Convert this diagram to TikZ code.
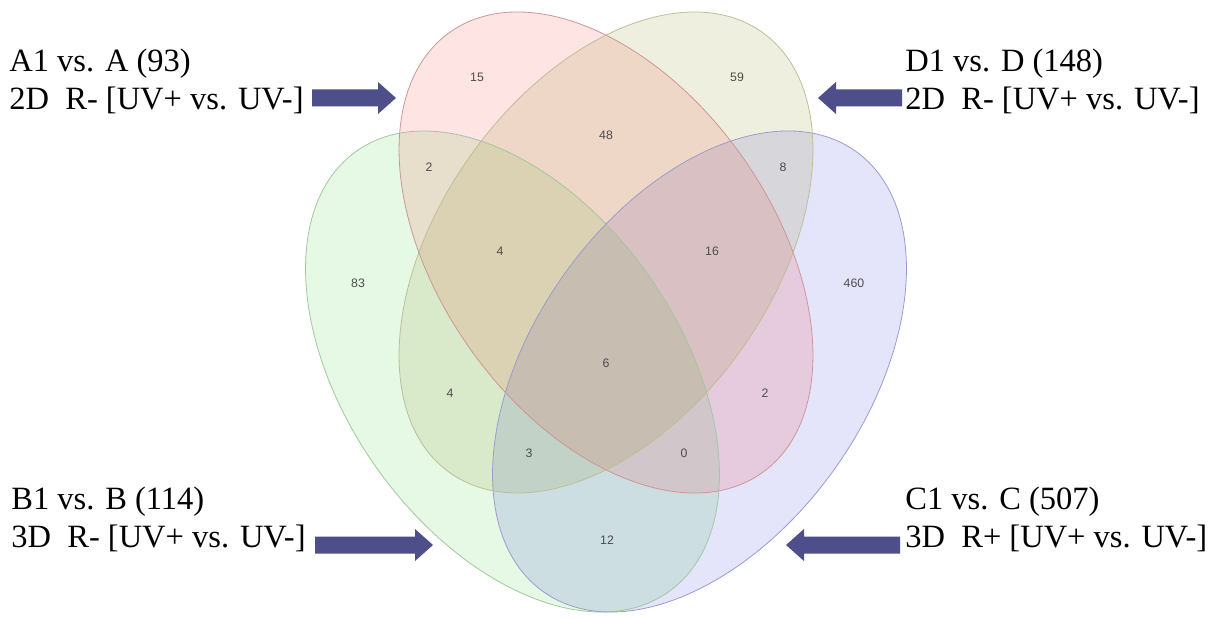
\documentclass[tikz,border=0pt]{standalone}
\usepackage{fontspec}
\setmainfont{Liberation Serif}
\newfontfamily\numfont{Liberation Sans}
\definecolor{vennA}{RGB}{255,0,0}
\definecolor{vennB}{RGB}{0,205,0}
\definecolor{vennC}{RGB}{0,0,208}
\definecolor{vennD}{RGB}{128,128,0}
\definecolor{lineA}{RGB}{205,150,150}
\definecolor{lineB}{RGB}{160,200,160}
\definecolor{lineC}{RGB}{155,155,205}
\definecolor{lineD}{RGB}{190,190,150}
\definecolor{arrowblue}{HTML}{4E4E8A}

\begin{document}
\begin{tikzpicture}[
        x=0.02cm, y=-0.02cm,
        every node/.style={inner sep=0pt},
        num/.style={font=\numfont\fontsize{7}{8}\selectfont, text=black!70},
        sidelab/.style={font=\fontsize{18.5}{20}\selectfont, anchor=base west},
        outline/.style={line width=0.45pt},
        posA/.style={shift={(606,252.5)}, rotate=-54.7},
        posD/.style={shift={(606,252.5)}, rotate=54.7},
        posB/.style={shift={(512.5,371.5)}, rotate=-54.7},
        posC/.style={shift={(699.5,371.5)}, rotate=54.7}
    ]

    \useasboundingbox (0,0) rectangle (1225,618);
    \fill[white] (0,0) rectangle (1225,618);

    \def\oval{(0,0) ellipse [x radius=270, y radius=166.6]}
    \newcommand{\fatarrow}[1]{(-#1,-8.5) -- (-18,-8.5) -- (-18,-16) -- (0,0) --
        (-18,16) -- (-18,8.5) -- (-#1,8.5) -- cycle}

    % =============== vier ellipsen ===============
    \fill[vennB, fill opacity=0.10, posB] \oval;
    \fill[vennC, fill opacity=0.106, posC] \oval;
    \fill[vennA, fill opacity=0.106, posA] \oval;
    \fill[vennD, fill opacity=0.12, posD] \oval;

    \draw[outline, lineB, posB] \oval;
    \draw[outline, lineC, posC] \oval;
    \draw[outline, lineA, posA] \oval;
    \draw[outline, lineD, posD] \oval;

    % =============== aantallen per gebied ===============
    \node[num] (nA)    at (477,77)  {15};
    \node[num] (nD)    at (737,77)  {59};
    \node[num] (nAD)   at (606,135) {48};
    \node[num] (nAB)   at (429,167) {2};
    \node[num] (nCD)   at (783,167) {8};
    \node[num] (nABD)  at (500,251) {4};
    \node[num] (nACD)  at (712,251) {16};
    \node[num] (nB)    at (358,283) {83};
    \node[num] (nC)    at (854,283) {460};
    \node[num] (nABCD) at (606,363) {6};
    \node[num] (nBD)   at (450,393) {4};
    \node[num] (nAC)   at (765,393) {2};
    \node[num] (nBCD)  at (529,453) {3};
    \node[num] (nABC)  at (684,453) {0};
    \node[num] (nBC)   at (607,540) {12};

    % =============== bijschriften ===============
    \node[sidelab] (labA1) at (9,72)    {A1 vs. A (93)};
    \node[sidelab] (labA2) at (9,110)   {2D\enspace R- [UV+ vs. UV-]};
    \node[sidelab] (labD1) at (905,72)  {D1 vs. D (148)};
    \node[sidelab] (labD2) at (905,110) {2D\enspace R- [UV+ vs. UV-]};
    \node[sidelab] (labB1) at (11,509)  {B1 vs. B (114)};
    \node[sidelab] (labB2) at (11,547)  {3D\enspace R- [UV+ vs. UV-]};
    \node[sidelab] (labC1) at (905,509) {C1 vs. C (507)};
    \node[sidelab] (labC2) at (905,547) {3D\enspace R+ [UV+ vs. UV-]};

    % =============== pijlen ===============
    \fill[arrowblue, shift={(396,98)}] \fatarrow{84};
    \fill[arrowblue, shift={(818,98)}, xscale=-1] \fatarrow{84};
    \fill[arrowblue, shift={(433,545)}] \fatarrow{118};
    \fill[arrowblue, shift={(786,545)}, xscale=-1] \fatarrow{114};

\end{tikzpicture}
\end{document}
